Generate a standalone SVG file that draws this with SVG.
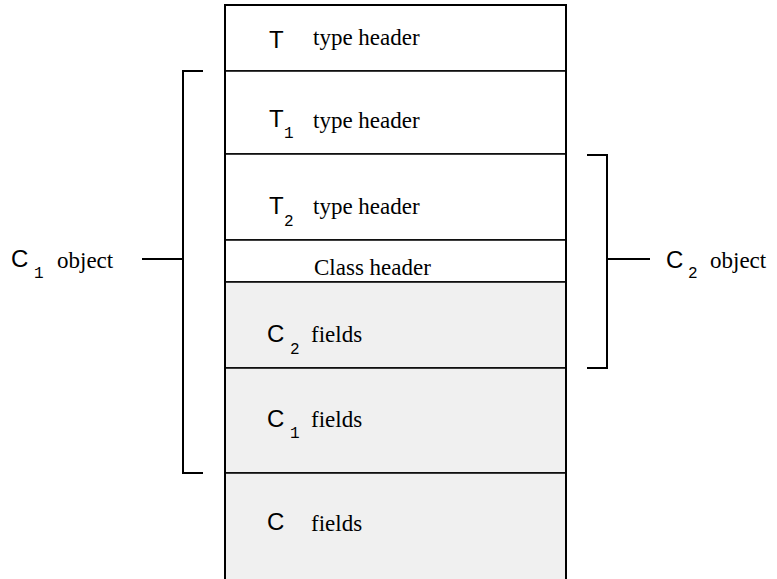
<svg xmlns="http://www.w3.org/2000/svg" width="777" height="579" viewBox="0 0 777 579">
<style>
.sans{font-family:"Liberation Sans",Arial,sans-serif;font-size:24px;fill:#000}
.sub{font-family:"Liberation Mono","Courier New",monospace;font-size:16px;fill:#000}
.serif{font-family:"Liberation Serif","Times New Roman",serif;font-size:23px;fill:#000}
.cell{stroke:#000;stroke-width:1.5}
.white{fill:#fff}
.gray{fill:#f0f0f0}
.br{fill:none;stroke:#000;stroke-width:2}
</style>
<rect x="0" y="0" width="777" height="579" fill="#fff"/>
<g id="row-t">
<rect class="cell white" x="225" y="5" width="341" height="66"/>
<text class="sans" x="269" y="48">T</text>
<text class="serif" x="313" y="45">type header</text>
</g>
<g id="row-t1">
<rect class="cell white" x="225" y="71" width="341" height="83"/>
<text class="sans" x="269" y="127">T</text>
<text class="sub" x="284" y="138">1</text>
<text class="serif" x="313" y="128">type header</text>
</g>
<g id="row-t2">
<rect class="cell white" x="225" y="154" width="341" height="86"/>
<text class="sans" x="269" y="214">T</text>
<text class="sub" x="284" y="226">2</text>
<text class="serif" x="313" y="214">type header</text>
</g>
<g id="row-class">
<rect class="cell white" x="225" y="240" width="341" height="42"/>
<text class="serif" x="314" y="275">Class header</text>
</g>
<g id="row-c2">
<rect class="cell gray" x="225" y="282" width="341" height="86"/>
<text class="sans" x="267" y="342">C</text>
<text class="sub" x="290" y="354">2</text>
<text class="serif" x="311" y="342">fields</text>
</g>
<g id="row-c1">
<rect class="cell gray" x="225" y="368" width="341" height="105"/>
<text class="sans" x="267" y="427">C</text>
<text class="sub" x="290" y="438">1</text>
<text class="serif" x="311" y="427">fields</text>
</g>
<g id="row-c">
<rect class="cell gray" x="225" y="473" width="341" height="130"/>
<text class="sans" x="267" y="530">C</text>
<text class="serif" x="311" y="531">fields</text>
</g>
<rect x="225" y="5" width="341" height="600" fill="none" stroke="#000" stroke-width="2"/>
<g id="connectors">
<path class="br" d="M203,71 H183 V473 H203"/>
<path class="br" d="M183,259 H142"/>
<path class="br" d="M587,155 H607 V368 H587"/>
<path class="br" d="M607,259 H650"/>
</g>
<g id="label-c1">
<text class="sans" x="11" y="267">C</text>
<text class="sub" x="34" y="278">1</text>
<text class="serif" x="57" y="268">object</text>
</g>
<g id="label-c2">
<text class="sans" x="666" y="268">C</text>
<text class="sub" x="688" y="278">2</text>
<text class="serif" x="710" y="268">object</text>
</g>
</svg>
